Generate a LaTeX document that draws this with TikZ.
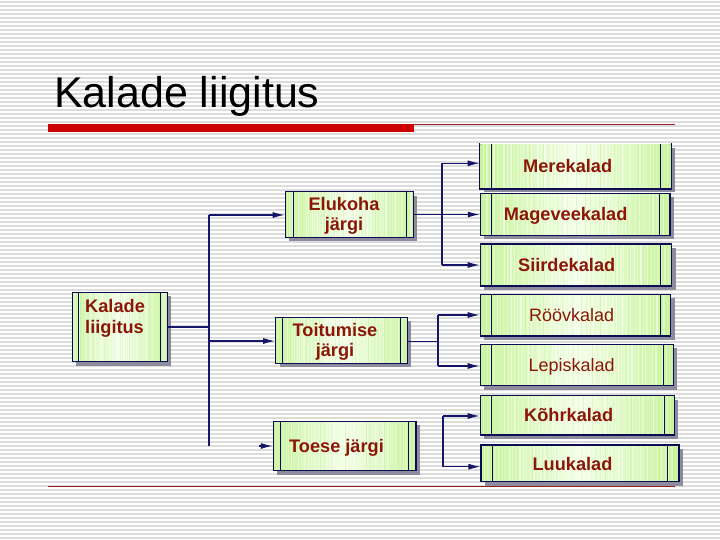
\documentclass[tikz,border=0pt]{standalone}
\usepackage{fontspec}
\setmainfont{Liberation Sans}
\usetikzlibrary{calc,shadows,arrows.meta}
\definecolor{g1}{RGB}{200,244,156}
\definecolor{g2}{RGB}{244,255,232}
\definecolor{g3}{RGB}{180,234,134}
\definecolor{boxline}{RGB}{12,12,82}
\definecolor{conn}{RGB}{22,22,104}
\definecolor{txt}{RGB}{140,22,8}
\definecolor{bgline}{RGB}{220,220,220}
\definecolor{shadowc}{RGB}{140,140,158}
\definecolor{barred}{RGB}{204,0,0}
\definecolor{thinred}{RGB}{150,30,30}
\begin{document}
\begin{tikzpicture}[x=1pt,y=-1pt,
  inl/.code={\def\inl{#1}}, inr/.code={\def\inr{#1}},
  fishbox/.style={draw=boxline, line width=1.2pt, inner sep=0pt,
    drop shadow={shadow xshift=4pt,shadow yshift=-4pt,fill=shadowc,opacity=1},
    path picture={
      \fill[left color=g1,right color=g1,middle color=g2]
        (path picture bounding box.south west) rectangle (path picture bounding box.north east);
      \foreach \k in {1,...,55}{
        \pgfmathsetmacro\f{\k/56}
        \pgfmathsetmacro\o{0.1+0.5*rnd}
        \draw[white,opacity=\o,line width=1.3pt]
          ($(path picture bounding box.south west)!\f!(path picture bounding box.south east)$) --
          ($(path picture bounding box.north west)!\f!(path picture bounding box.north east)$);
      }
      \foreach \k in {1,...,40}{
        \pgfmathsetmacro\f{(\k-0.5)/40.5}
        \pgfmathsetmacro\o{0.35*rnd}
        \draw[g3,opacity=\o,line width=0.9pt]
          ($(path picture bounding box.south west)!\f!(path picture bounding box.south east)$) --
          ($(path picture bounding box.north west)!\f!(path picture bounding box.north east)$);
      }
      \draw[boxline,line width=0.9pt]
        ([xshift=\inl pt]path picture bounding box.south west) -- ([xshift=\inl pt]path picture bounding box.north west);
      \draw[boxline,line width=0.9pt]
        ([xshift=-\inr pt]path picture bounding box.south east) -- ([xshift=-\inr pt]path picture bounding box.north east);
    }},
  smallbox/.style={fishbox,inl=6.5,inr=6.8},
  bigbox/.style={fishbox,inl=10.7,inr=10.2},
  lbl/.style={text=txt,font=\fontsize{18.2}{20.5}\selectfont\bfseries,inner sep=0pt},
  lblr/.style={text=txt,font=\fontsize{18}{20}\selectfont,inner sep=0pt},
  link/.style={draw=conn,line width=1.2pt},
  arr/.style={draw=conn,line width=1.2pt,-{Latex[length=12pt,width=6pt]}}
]
\pgfmathsetseed{7}
% background
\fill[white] (0,0) rectangle (720,540);
\useasboundingbox (0,0) rectangle (720,540);
\foreach \y in {2,6,...,538}{
  \draw[bgline,line width=1.1pt] (0,\y) -- (720,\y);
}
% title
\node[anchor=base west,inner sep=0pt,font=\fontsize{43}{48}\selectfont] (title) at (54,108) {Kalade liigitus};
\fill[barred] (48,124) rectangle (414,132.5);
\draw[thinred,line width=0.9pt] (414,124.3) -- (675,124.3);
\draw[thinred,line width=1pt] (48,486) -- (675,486);

% boxes
\pgfmathsetseed{11}
\node[smallbox,minimum width=95pt,minimum height=69.4pt] (kal) at (119.8,327) {};
\node[smallbox,inl=8,inr=6.6,minimum width=128pt,minimum height=45.6pt] (elu) at (349.3,214.5) {};
\node[smallbox,inl=7,inr=7.3,minimum width=131.6pt,minimum height=46pt] (toi) at (341.5,340.3) {};
\node[smallbox,inl=7.4,inr=7.7,minimum width=142.7pt,minimum height=49.4pt] (toe) at (344.7,446) {};

\node[bigbox,draw=none,minimum width=190.4pt,minimum height=44.3pt] (mer) at (575.5,166.2) {};
\draw[boxline,line width=1.2pt] (mer.north west) -- (mer.south west) -- (mer.south east) -- (mer.north east);
\node[bigbox,minimum width=189.7pt,minimum height=42pt] (mag) at (575.2,214.3) {};
\node[bigbox,inr=11,minimum width=191.4pt,minimum height=42pt] (sii) at (576,265) {};
\node[bigbox,minimum width=190.4pt,minimum height=41.7pt] (roo) at (575.5,315.2) {};
\node[bigbox,minimum width=193pt,minimum height=41.4pt] (lep) at (576.8,365) {};
\node[bigbox,inr=10.3,minimum width=194pt,minimum height=39.3pt] (koh) at (577.3,415.3) {};
\node[bigbox,inl=11,inr=11.7,minimum width=198pt,minimum height=36.7pt] (luu) at (580,463.3) {};

% labels (anchor base = baseline of last line)
\node[lbl,anchor=base west,align=left] (tkal) at (85,333.3) {Kalade\\liigitus};
\node[lbl,anchor=base,align=center] (telu) at (344,230.5) {Elukoha\\järgi};
\node[lbl,anchor=base,align=center] (ttoi) at (335,356.7) {Toitumise\\järgi};
\node[lbl,anchor=base] (ttoe) at (336.5,452.3) {Toese järgi};
\node[lbl,anchor=base] (tmer) at (567.7,172.7) {Merekalad};
\node[lbl,anchor=base] (tmag) at (565.7,220.7) {Mageveekalad};
\node[lbl,anchor=base] (tsii) at (566.7,271.7) {Siirdekalad};
\node[lblr,anchor=base] (troo) at (571.7,321) {Röövkalad};
\node[lblr,anchor=base] (tlep) at (571.7,371.7) {Lepiskalad};
\node[lbl,anchor=base] (tkoh) at (568.7,421.7) {Kõhrkalad};
\node[lbl,anchor=base] (tluu) at (572.5,470) {Luukalad};

% connectors: level 1
\coordinate (a1) at (209,215);
\coordinate (a2) at (209,446);
\coordinate (a3) at (259,446);
\draw[link] (a1) -- (a2);
\draw[link] (kal.east) -- (kal.east -| a1);
\draw[arr] (a1) -- (a1 -| elu.west);
\draw[arr] (209,341) coordinate (a4) -- (a4 -| toi.west);
\draw[arr] (a3) -- (a3 -| toe.west);

% Elukoha branch
\coordinate (b1) at (442,163.3);
\coordinate (b2) at (442,265);
\draw[link] (b1) -- (b2);
\draw[link] (elu.east) -- (elu.east -| b1);
\draw[arr] (b1) -- (b1 -| mer.west);
\draw[arr] (elu.east -| b1) -- (elu.east -| mag.west);
\draw[arr] (b2) -- (b2 -| sii.west);

% Toitumise branch
\coordinate (c1) at (438,315);
\coordinate (c2) at (438,366);
\draw[link] (c1) -- (c2);
\draw[link] (407.3,341.5) coordinate (c0) -- (c0 -| c1);
\draw[arr] (c1) -- (c1 -| roo.west);
\draw[arr] (c2) -- (c2 -| lep.west);

% Toese branch
\coordinate (d1) at (443,416);
\coordinate (d2) at (443,466.7);
\draw[link] (d1) -- (d2);
\draw[arr] (d1) -- (d1 -| koh.west);
\draw[arr] (d2) -- (d2 -| luu.west);
\end{tikzpicture}
\end{document}
